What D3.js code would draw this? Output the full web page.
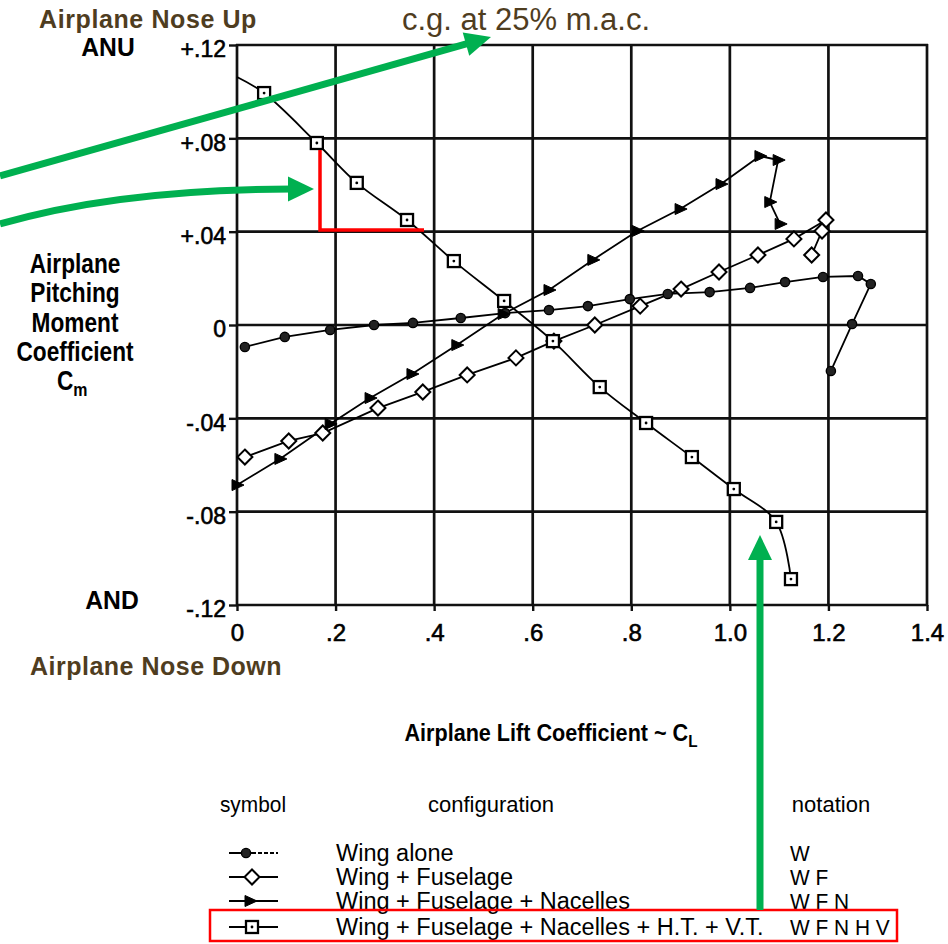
<!DOCTYPE html>
<html><head><meta charset="utf-8">
<script src="https://cdn.jsdelivr.net/npm/d3@7"></script>
<style>body{margin:0;background:#fff} svg{display:block}</style>
</head><body><svg id="c" width="948" height="944"></svg>
<script>
// ---------- data ----------
const xTickValues = [0, 0.2, 0.4, 0.6, 0.8, 1.0, 1.2, 1.4];
const xTickLabels = ["0", ".2", ".4", ".6", ".8", "1.0", "1.2", "1.4"];
const yTickValues = [0.12, 0.08, 0.04, 0, -0.04, -0.08, -0.12];
const yTickLabels = ["+.12", "+.08", "+.04", "0", "-.04", "-.08", "-.12"];

// [CL, Cm]
const wingAlone = [
  [0.016,-0.0094],[0.097,-0.0051],[0.189,-0.0021],[0.278,0.0000],[0.357,0.0009],
  [0.454,0.0030],[0.544,0.0051],[0.633,0.0064],[0.712,0.0081],[0.797,0.0111],
  [0.874,0.0133],[0.959,0.0141],[1.041,0.0159],[1.112,0.0184],[1.189,0.0206],
  [1.260,0.0210],[1.286,0.0176],[1.248,0.0004],[1.205,-0.0197]
];
const wingFuselage = [
  [0.016,-0.0566],[0.105,-0.0497],[0.174,-0.0463],[0.286,-0.0356],[0.377,-0.0287],
  [0.467,-0.0214],[0.566,-0.0141],[0.643,-0.0069],[0.726,0.0000],[0.818,0.0081],
  [0.901,0.0154],[0.978,0.0227],[1.057,0.0300],[1.130,0.0369],[1.195,0.0450],
  [1.187,0.0403],[1.166,0.0300]
];
const wingFuselageNacelles = [
  [0.000,-0.0686],[0.087,-0.0574],[0.189,-0.0424],[0.270,-0.0313],[0.355,-0.0210],
  [0.446,-0.0086],[0.540,0.0047],[0.633,0.0150],[0.722,0.0279],[0.812,0.0403],
  [0.899,0.0497],[0.982,0.0604],[1.061,0.0724],[1.098,0.0707],[1.081,0.0527],
  [1.102,0.0433]
];
const completeAirplane = [
  [0.000,0.1063],[0.055,0.0994],[0.162,0.0780],[0.243,0.0609],[0.345,0.0450],
  [0.440,0.0274],[0.542,0.0103],[0.641,-0.0069],[0.736,-0.0266],[0.830,-0.0420],
  [0.923,-0.0566],[1.008,-0.0703],[1.094,-0.0844],[1.124,-0.1089]
];
const configurations = ["Wing alone", "Wing + Fuselage", "Wing + Fuselage + Nacelles", "Wing + Fuselage + Nacelles + H.T. + V.T."];
const notations = ["W", "W F", "W F N", "W F N H V"];
const markerTypes = ["circle", "diamond", "triangle", "square"];

// ---------- setup ----------
const svg = d3.select("#c");
const FONT = "'Liberation Sans', Arial, Helvetica, sans-serif";
const BROWN = "#4f3d1f";
const GREEN = "#00b050";
const RED = "#ff0000";

const x = d3.scaleLinear().domain([0, 1.4]).range([237, 927]);
const y = d3.scaleLinear().domain([-0.12, 0.12]).range([605, 45]);

// grid
const grid = svg.append("g").attr("stroke", "#111").attr("stroke-width", 2.7);
xTickValues.forEach(v => grid.append("line")
  .attr("x1", x(v)).attr("x2", x(v)).attr("y1", y(0.12) - 1).attr("y2", y(-0.12) + 1));
yTickValues.forEach(v => grid.append("line")
  .attr("x1", x(0) - 1).attr("x2", x(1.4) + 1).attr("y1", y(v)).attr("y2", y(v)));

// axes
const yAxis = d3.axisLeft(y).tickValues(yTickValues)
  .tickFormat((d, i) => yTickLabels[i]).tickSize(8).tickPadding(3);
const gy = svg.append("g").attr("transform", `translate(${x(0)},0)`).call(yAxis);
gy.select(".domain").remove();
gy.selectAll(".tick line").attr("stroke", "#111").attr("stroke-width", 2.4);
gy.selectAll(".tick text").attr("font-family", FONT).attr("font-size", 23)
  .attr("fill", "#000").attr("stroke", "#000").attr("stroke-width", 0.6).attr("dy", "0.52em");

const xAxis = d3.axisBottom(x).tickValues(xTickValues)
  .tickFormat((d, i) => xTickLabels[i]).tickSize(6).tickPadding(13);
const gx = svg.append("g").attr("transform", `translate(0,${y(-0.12)})`).call(xAxis);
gx.select(".domain").remove();
gx.selectAll(".tick line").attr("stroke", "#111").attr("stroke-width", 2.4);
gx.selectAll(".tick text").attr("font-family", FONT).attr("font-size", 24)
  .attr("fill", "#000").attr("stroke", "#000").attr("stroke-width", 0.6);

// ---------- series ----------
const seriesList = [
  {data: wingAlone, marker: "circle", skipFirst: false, curve: d3.curveLinear},
  {data: wingFuselage, marker: "diamond", skipFirst: false, curve: d3.curveLinear},
  {data: wingFuselageNacelles, marker: "triangle", skipFirst: false, curve: d3.curveLinear},
  {data: completeAirplane, marker: "square", skipFirst: true, curve: d3.curveCatmullRom.alpha(0.5)}
];

function drawMarker(g, type, cx, cy) {
  if (type === "circle") {
    g.append("circle").attr("cx", cx).attr("cy", cy).attr("r", 4.6)
      .attr("fill", "#222").attr("stroke", "#000").attr("stroke-width", 1.4);
  } else if (type === "diamond") {
    g.append("path").attr("d", `M${cx},${cy-7.5}L${cx+7.5},${cy}L${cx},${cy+7.5}L${cx-7.5},${cy}Z`)
      .attr("fill", "#fff").attr("stroke", "#000").attr("stroke-width", 2);
  } else if (type === "triangle") {
    g.append("path").attr("d", `M${cx+7},${cy}L${cx-5},${cy-5.5}L${cx-5},${cy+5.5}Z`)
      .attr("fill", "#000").attr("stroke", "#000").attr("stroke-width", 1);
  } else {
    g.append("rect").attr("x", cx - 6).attr("y", cy - 6).attr("width", 12).attr("height", 12)
      .attr("fill", "#fff").attr("stroke", "#000").attr("stroke-width", 2.3);
    g.append("circle").attr("cx", cx).attr("cy", cy).attr("r", 1.4).attr("fill", "#000");
  }
}

const plot = svg.append("g");
seriesList.forEach(s => {
  const line = d3.line().x(d => x(d[0])).y(d => y(d[1])).curve(s.curve);
  plot.append("path").datum(s.data).attr("d", line)
    .attr("fill", "none").attr("stroke", "#000").attr("stroke-width", 1.8);
});
seriesList.forEach(s => {
  const mg = plot.append("g");
  s.data.forEach((d, i) => {
    if (s.skipFirst && i === 0) return;
    drawMarker(mg, s.marker, x(d[0]), y(d[1]));
  });
});

// ---------- texts ----------
function txt(str, px, py, o = {}) {
  const t = svg.append("text")
    .attr("transform", `translate(${px},${py}) scale(${o.sx || 1},1)`)
    .attr("font-family", FONT).attr("font-size", o.size || 22)
    .attr("font-weight", o.weight || "normal")
    .attr("fill", o.fill || "#000")
    .attr("text-anchor", o.anchor || "start")
    .text(str);
  if (o.letter) t.attr("letter-spacing", o.letter);
  return t;
}

txt("Airplane Nose Up", 148, 28, {size: 25, weight: "bold", fill: BROWN, anchor: "middle", letter: 0.6});
txt("c.g. at 25% m.a.c.", 526, 30, {size: 31, fill: BROWN, anchor: "middle"});
txt("ANU", 108, 56, {size: 26, weight: "bold", anchor: "middle", sx: 0.95});
txt("AND", 112, 609, {size: 26, weight: "bold", anchor: "middle", sx: 0.95});
txt("Airplane Nose Down", 156, 675, {size: 25, weight: "bold", fill: BROWN, anchor: "middle", letter: 0.5});

// y title
const yTitle = ["Airplane", "Pitching", "Moment", "Coefficient"];
const yTitleBase = [273, 302, 332, 361];
yTitle.forEach((s, i) => txt(s, 75, yTitleBase[i], {size: 27, weight: "bold", anchor: "middle", sx: 0.84}));
const cm = txt("C", 57, 390, {size: 27, weight: "bold", anchor: "start", sx: 0.84});
cm.append("tspan").attr("font-size", 19).attr("dy", 6).text("m");

// x title
const xt = txt("Airplane Lift Coefficient ~ C", 551, 741, {size: 24, weight: "bold", anchor: "middle", sx: 0.9});
xt.append("tspan").attr("font-size", 17).attr("dy", 6).text("L");

// ---------- legend ----------
txt("symbol", 253, 812, {size: 22, anchor: "middle", sx: 0.95});
txt("configuration", 491, 812, {size: 22, anchor: "middle"});
txt("notation", 831, 812, {size: 22, anchor: "middle"});
const rowBase = [861, 885, 909, 935];
const symCenter = [246, 252, 250, 252];
configurations.forEach((c, i) => {
  const cy = rowBase[i] - 8;
  const lg = svg.append("g");
  if (i === 0) {
    lg.append("line").attr("x1", 229).attr("x2", 252).attr("y1", cy).attr("y2", cy).attr("stroke", "#000").attr("stroke-width", 2);
    lg.append("line").attr("x1", 252).attr("x2", 278).attr("y1", cy).attr("y2", cy).attr("stroke", "#000").attr("stroke-width", 2).attr("stroke-dasharray", "4,2");
  } else {
    lg.append("line").attr("x1", 229).attr("x2", 278).attr("y1", cy).attr("y2", cy).attr("stroke", "#000").attr("stroke-width", 2);
  }
  drawMarker(lg, markerTypes[i], symCenter[i], cy);
  txt(c, 336, rowBase[i], {size: 23.5});
  txt(notations[i], 790, rowBase[i], {size: 22, sx: 0.95});
});

// ---------- annotations ----------
const ann = svg.append("g");
// red slope marker
ann.append("path").attr("d", "M320,150L320,230L424,230")
  .attr("fill", "none").attr("stroke", RED).attr("stroke-width", 3.5);
// red box around last legend row
ann.append("rect").attr("x", 210).attr("y", 910).attr("width", 687).attr("height", 31)
  .attr("fill", "none").attr("stroke", RED).attr("stroke-width", 2.5);

function arrowHead(tipX, tipY, ux, uy, len, half) {
  const bx = tipX - ux * len, by = tipY - uy * len;
  const nx = -uy, ny = ux;
  return `M${tipX},${tipY}L${bx + nx * half},${by + ny * half}L${bx - nx * half},${by - ny * half}Z`;
}
// straight arrow to c.g. label
{
  const x0 = 0, y0 = 176, tx = 491, ty = 37;
  const L = Math.hypot(tx - x0, ty - y0), ux = (tx - x0) / L, uy = (ty - y0) / L;
  ann.append("line").attr("x1", x0).attr("y1", y0).attr("x2", tx - ux * 22).attr("y2", ty - uy * 22)
    .attr("stroke", GREEN).attr("stroke-width", 7);
  ann.append("path").attr("d", arrowHead(tx, ty, ux, uy, 26, 12)).attr("fill", GREEN);
}
// curved arrow to slope marker
ann.append("path").attr("d", "M0,224Q120,189 292,189")
  .attr("fill", "none").attr("stroke", GREEN).attr("stroke-width", 7);
ann.append("path").attr("d", arrowHead(314, 189, 1, 0, 26, 12.5)).attr("fill", GREEN);
// vertical arrow from legend row
ann.append("line").attr("x1", 760).attr("x2", 760).attr("y1", 910).attr("y2", 556)
  .attr("stroke", GREEN).attr("stroke-width", 7);
ann.append("path").attr("d", arrowHead(760, 535, 0, -1, 25, 12)).attr("fill", GREEN);
</script></body></html>
